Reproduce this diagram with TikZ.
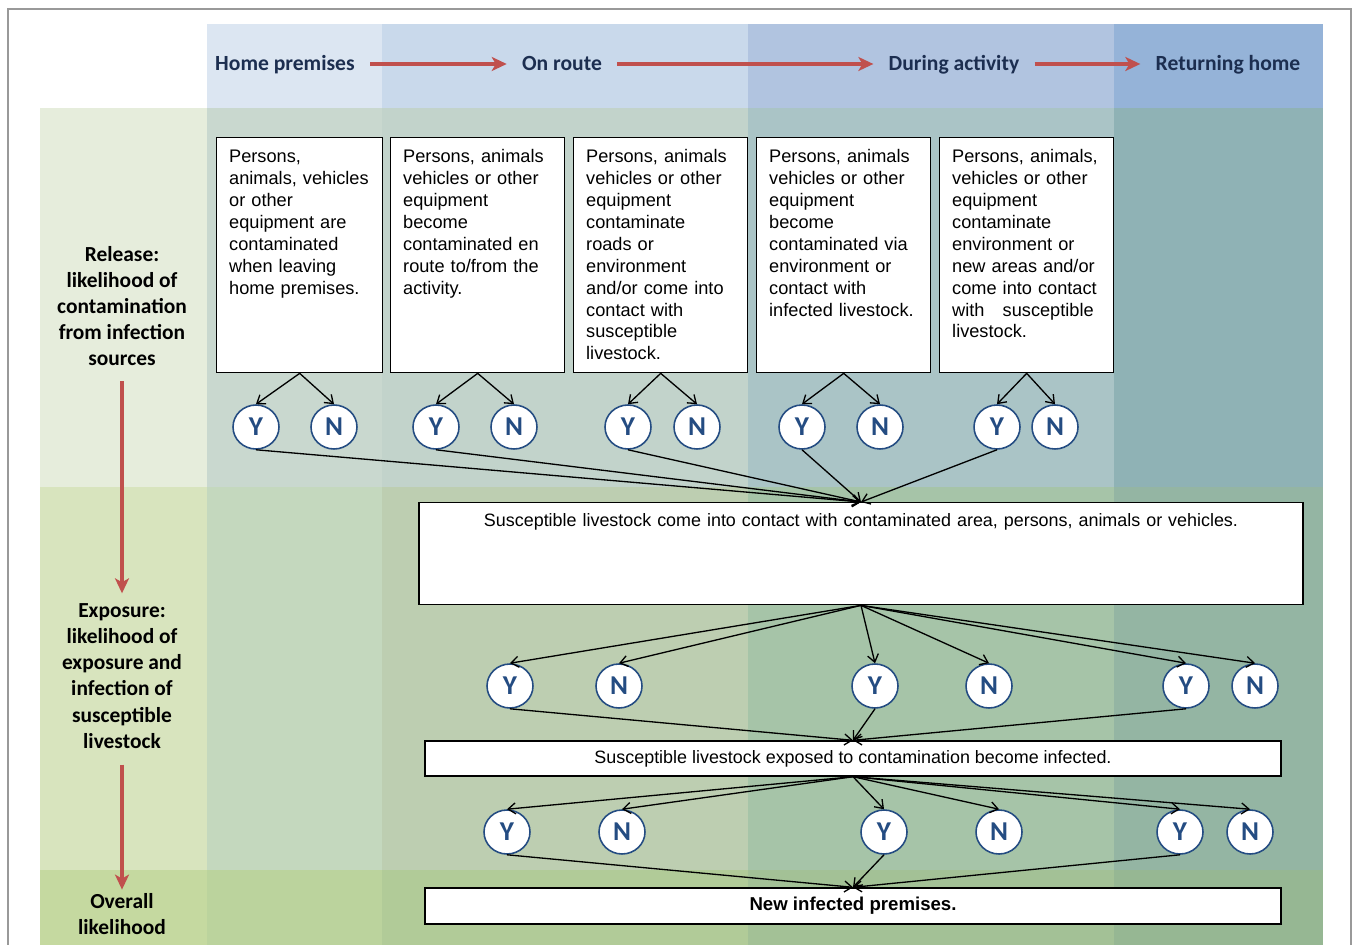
\documentclass[tikz,border=0pt]{standalone}
\usepackage{fontspec}
\setmainfont{Liberation Sans}
\newfontfamily\carlito{Carlito}
\usetikzlibrary{arrows.meta,shapes.geometric}
\definecolor{hdtext}{RGB}{28,46,80}
\definecolor{flowred}{RGB}{192,80,77}
\definecolor{ynblue}{RGB}{36,76,130}
\definecolor{hdlab}{RGB}{255,255,255}
\definecolor{hdhome}{RGB}{220,230,242}
\definecolor{hdroute}{RGB}{201,217,235}
\definecolor{hdact}{RGB}{177,196,224}
\definecolor{hdback}{RGB}{149,179,216}
\definecolor{rllab}{RGB}{230,237,220}
\definecolor{rlhome}{RGB}{201,216,207}
\definecolor{rlroute}{RGB}{194,211,203}
\definecolor{rlact}{RGB}{170,196,198}
\definecolor{rlback}{RGB}{143,178,181}
\definecolor{exlab}{RGB}{216,228,190}
\definecolor{exhome}{RGB}{196,216,190}
\definecolor{exroute}{RGB}{189,206,177}
\definecolor{exact}{RGB}{166,196,168}
\definecolor{exback}{RGB}{148,181,163}
\definecolor{ovlab}{RGB}{197,217,160}
\definecolor{ovhome}{RGB}{187,211,157}
\definecolor{ovroute}{RGB}{177,203,152}
\definecolor{ovact}{RGB}{163,193,150}
\definecolor{ovback}{RGB}{150,183,147}
\tikzset{
  hdr/.style={font=\carlito\bfseries\fontsize{12.3}{15}\selectfont,text=hdtext,inner xsep=0.3cm,inner ysep=0pt,text height=0.38cm,text depth=0.1cm},
  stage/.style={font=\carlito\bfseries\fontsize{12.2}{14.9}\selectfont,align=center},
  srcbox/.style={draw,fill=white,line width=0.8pt,anchor=north west,align=left,inner xsep=0.25cm,inner ysep=0.06cm,text height=0.44cm,text depth=4.14cm,font=\fontsize{10.35}{12.47}\selectfont},
  wbox/.style={draw,fill=white,line width=0.8pt,font=\fontsize{10.2}{12.47}\selectfont},
  yn/.style={ellipse,draw=ynblue,line width=0.9pt,fill=white,minimum width=0.92cm,minimum height=0.88cm,inner sep=0pt,text=ynblue,font=\carlito\bfseries\fontsize{15.5}{15.5}\selectfont},
  conn/.style={-{Straight Barb[length=0.15cm,width=0.22cm]},line width=0.75pt},
  flow/.style={-{Stealth[length=0.3cm,width=0.28cm,inset=0.08cm]},flowred,line width=2pt}
}
\begin{document}
\begin{tikzpicture}[x=0.02cm,y=-0.02cm]
\useasboundingbox (0,0) rectangle (1358,945);
\clip (0,0) rectangle (1358,945);
\fill[white] (0,0) rectangle (1358,945);
\foreach \xa/\xb/\c in {40/207/lab,207/382/home,382/748/route,748/1114/act,1114/1323/back}{
  \fill[hd\c] (\xa,24) rectangle (\xb,108);
  \fill[rl\c] (\xa,108) rectangle (\xb,487);
  \fill[ex\c] (\xa,487) rectangle (\xb,870);
  \fill[ov\c] (\xa,870) rectangle (\xb,960);}
\draw[gray!80,line width=0.6pt] (8,960) -- (8,9) -- (1351,9) -- (1351,960);
\node[hdr] (home) at (285,64) {Home premises};
\node[hdr] (route) at (562,64) {On route};
\node[hdr] (activity) at (954,64) {During activity};
\node[hdr] (back) at (1228,64) {Returning home};
\draw[flow] (home) -- (route);
\draw[flow] (route) -- (activity);
\draw[flow] (activity) -- (back);
\node[stage] (release) at (122,306) {Release:\\likelihood of\\contamination\\from infection\\sources};
\node[stage] (exposure) at (122,676) {Exposure:\\likelihood of\\exposure and\\infection of\\susceptible\\livestock};
\node[stage] (overall) at (122,914) {Overall\\likelihood};
\draw[flow,shorten <=0.18cm,shorten >=0.08cm] (release) -- (exposure);
\draw[flow,shorten <=0.2cm,shorten >=-0.05cm] (exposure) -- (overall);
\foreach \n/\x/\tw/\t in {
  1/216/2.82/{Persons,\\animals, vehicles\\or other\\equipment are\\contaminated\\when leaving\\home premises.},
  2/390/2.98/{Persons, animals\\vehicles or other\\equipment\\become\\contaminated en\\route to/from the\\activity.},
  3/573/2.98/{Persons, animals\\vehicles or other\\equipment\\contaminate\\roads or\\environment\\and/or come into\\contact with\\susceptible\\livestock.},
  4/756/2.98/{Persons, animals\\vehicles or other\\equipment\\become\\contaminated via\\environment or\\contact with\\infected livestock.},
  5/939/2.98/{Persons, animals,\\vehicles or other\\equipment\\contaminate\\environment or\\new areas and/or\\come into contact\\with~~ susceptible\\livestock.}}{
  \node[srcbox,text width=\tw cm] (src\n) at (\x,137) {\t};}
\node[wbox,anchor=north,text width=17.1cm,align=center,inner xsep=0.29cm,inner ysep=0.06cm,text height=0.42cm,text depth=1.5cm] (contact) at (861,502) {Susceptible livestock come into contact with contaminated area, persons, animals or vehicles.};
\node[wbox,minimum width=17.12cm,minimum height=0.7cm] (infected) at (853,758.5) {Susceptible livestock exposed to contamination become infected.};
\node[wbox,minimum width=17.12cm,minimum height=0.72cm,font=\bfseries\fontsize{10.6}{12.5}\selectfont] (newip) at (853,906) {New infected premises.};
\foreach \n/\xy/\xn in {1/256/334,2/436/514,3/628/697,4/802/880,5/997/1055}{
  \node[yn] (ry\n) at (\xy,427) {Y};
  \node[yn] (rn\n) at (\xn,427) {N};
  \draw[conn] (src\n.south) -- (ry\n.north);
  \draw[conn] (src\n.south) -- (rn\n.north);
  \draw[conn] (ry\n.south) -- (contact.north);}
\foreach \n/\xy/\xn in {1/510/619,2/875/989,3/1186/1255}{
  \node[yn] (ey\n) at (\xy,686) {Y};
  \node[yn] (en\n) at (\xn,686) {N};
  \draw[conn] (contact.south) -- (ey\n.north);
  \draw[conn] (contact.south) -- (en\n.north);
  \draw[conn] (ey\n.south) -- (infected.north);}
\foreach \n/\xy/\xn in {1/507/622,2/884/999,3/1180/1250}{
  \node[yn] (fy\n) at (\xy,832) {Y};
  \node[yn] (fn\n) at (\xn,832) {N};
  \draw[conn] (infected.south) -- (fy\n.north);
  \draw[conn] (infected.south) -- (fn\n.north);
  \draw[conn] (fy\n.south) -- (newip.north);}
\end{tikzpicture}
\end{document}
